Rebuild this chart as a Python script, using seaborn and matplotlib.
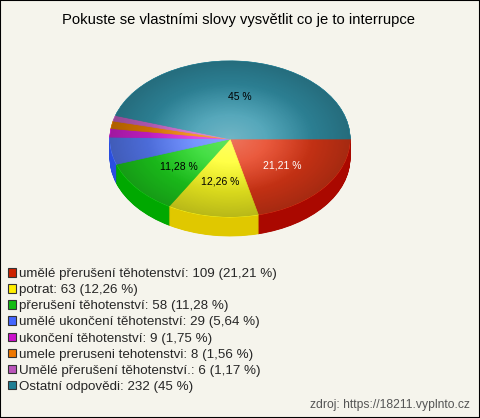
import numpy as np
import matplotlib
matplotlib.use("Agg")
import matplotlib.pyplot as plt
import seaborn as sns
from matplotlib.patches import Patch, Rectangle, Circle

sns.set_theme(style="white")
plt.rcParams['font.family'] = ['Liberation Sans', 'DejaVu Sans']

# ---- data ----
categories = ["umělé přerušení těhotenství", "potrat", "přerušení těhotenství",
              "umělé ukončení těhotenství", "ukončení těhotenství",
              "umele preruseni tehotenstvi", "Umělé přerušení těhotenství.",
              "Ostatní odpovědi"]
counts = [109, 63, 58, 29, 9, 8, 6, 232]
pct_labels = ["21,21", "12,26", "11,28", "5,64", "1,75", "1,56", "1,17", "45"]
slice_labels = ["21,21 %", "12,26 %", "11,28 %", "", "", "", "", "45 %"]
title = "Pokuste se vlastními slovy vysvětlit co je to interrupce"
source = "zdroj: https://18211.vyplnto.cz"

top_colors = sns.color_palette(["#e63a18", "#ffff22", "#1fd81f", "#5a80ff",
                                "#dd22dd", "#f08400", "#cc66cc", "#3496ad"])
side_colors = sns.color_palette(["#aa0800", "#e0c800", "#00a800", "#2a4ee0",
                                 "#a000a0", "#c06000", "#9a449a", "#1c6a7a"])
legend_colors = sns.color_palette(["#cc2200", "#ffee00", "#11bb11", "#4466ff",
                                   "#cc11cc", "#ee7700", "#bb55bb", "#1f7f94"])
text_colors = ["white", "black", "black", "black", "black", "black", "black", "black"]

W, H = 480, 418
bg = "#f5f4ec"
fig = plt.figure(figsize=(W / 100, H / 100), dpi=100, facecolor=bg)
ax = fig.add_axes([0, 0, 1, 1])
ax.set_facecolor(bg)

rx, ry = 120.0, 78.0
k = rx / ry
cx, cy_pix = 230.0, 139.0
cy = (H - cy_pix) * k
depth = 19.0 * k

# side walls: stacked pies
nlayers = 40
for i in range(nlayers + 1):
    off = depth * (1 - i / nlayers)
    ax.pie(counts, colors=side_colors, startangle=0, counterclock=False,
           center=(cx, cy - off), radius=rx,
           wedgeprops=dict(linewidth=0.6, edgecolor=None))
    for w, c in zip(ax.patches[-len(counts):], side_colors):
        w.set_edgecolor(c)

# top face
it = iter(slice_labels)
wedges, texts, autotexts = ax.pie(
    counts, colors=top_colors, startangle=0, counterclock=False,
    center=(cx, cy), radius=rx, autopct=lambda p: next(it), pctdistance=0.55,
    textprops=dict(fontsize=7.5),
    wedgeprops=dict(linewidth=0.5))
for w, c in zip(wedges, top_colors):
    w.set_edgecolor(c)
for t, c in zip(autotexts, text_colors):
    t.set_color(c)
    t.set_zorder(10)

# radial shading overlay (light centre, darker rim)
n = 400
yy, xx = np.mgrid[-1:1:n * 1j, -1:1:n * 1j]
r = np.sqrt(xx ** 2 + yy ** 2)
light = np.zeros((n, n, 4))
light[..., :3] = 1.0
light[..., 3] = np.clip(0.30 * (1 - r / 0.7), 0, 1)
dark = np.zeros((n, n, 4))
dark[..., 3] = np.clip(0.28 * (r - 0.3) / 0.7, 0, 0.28)
clip = Circle((cx, cy), rx, transform=ax.transData)
for img in (dark, light):
    im = ax.imshow(img, extent=[cx - rx, cx + rx, cy - rx, cy + rx],
                   origin="lower", zorder=5, interpolation="bilinear")
    im.set_clip_path(clip)

ax.set_aspect("auto")
ax.set_xlim(0, W)
ax.set_ylim(0, H * k)
ax.axis("off")

# title
fig.text(238 / W, 1 - 20 / H, title, ha="center", va="center", fontsize=10.6, color="black")

# legend
handles = [Patch(facecolor=c, edgecolor="#333333", linewidth=0.8) for c in legend_colors]
labels = [f"{c}: {v} ({p} %)" for c, v, p in zip(categories, counts, pct_labels)]
fig.legend(handles, labels, loc="upper left", bbox_to_anchor=(8 / W, 1 - 268 / H),
           frameon=False, fontsize=9.6, handlelength=0.6, handleheight=0.6,
           handletextpad=0.25, labelspacing=0.31, borderaxespad=0, borderpad=0)

# source
fig.text(470 / W, 1 - 405 / H, source, ha="right", va="center", fontsize=8.7, color="#555555")

# border
fig.patches.append(Rectangle((0, 0), 1, 1, transform=fig.transFigure, fill=False,
                             edgecolor="black", linewidth=1.5))

fig.savefig("out.png", dpi=100, facecolor=bg)
